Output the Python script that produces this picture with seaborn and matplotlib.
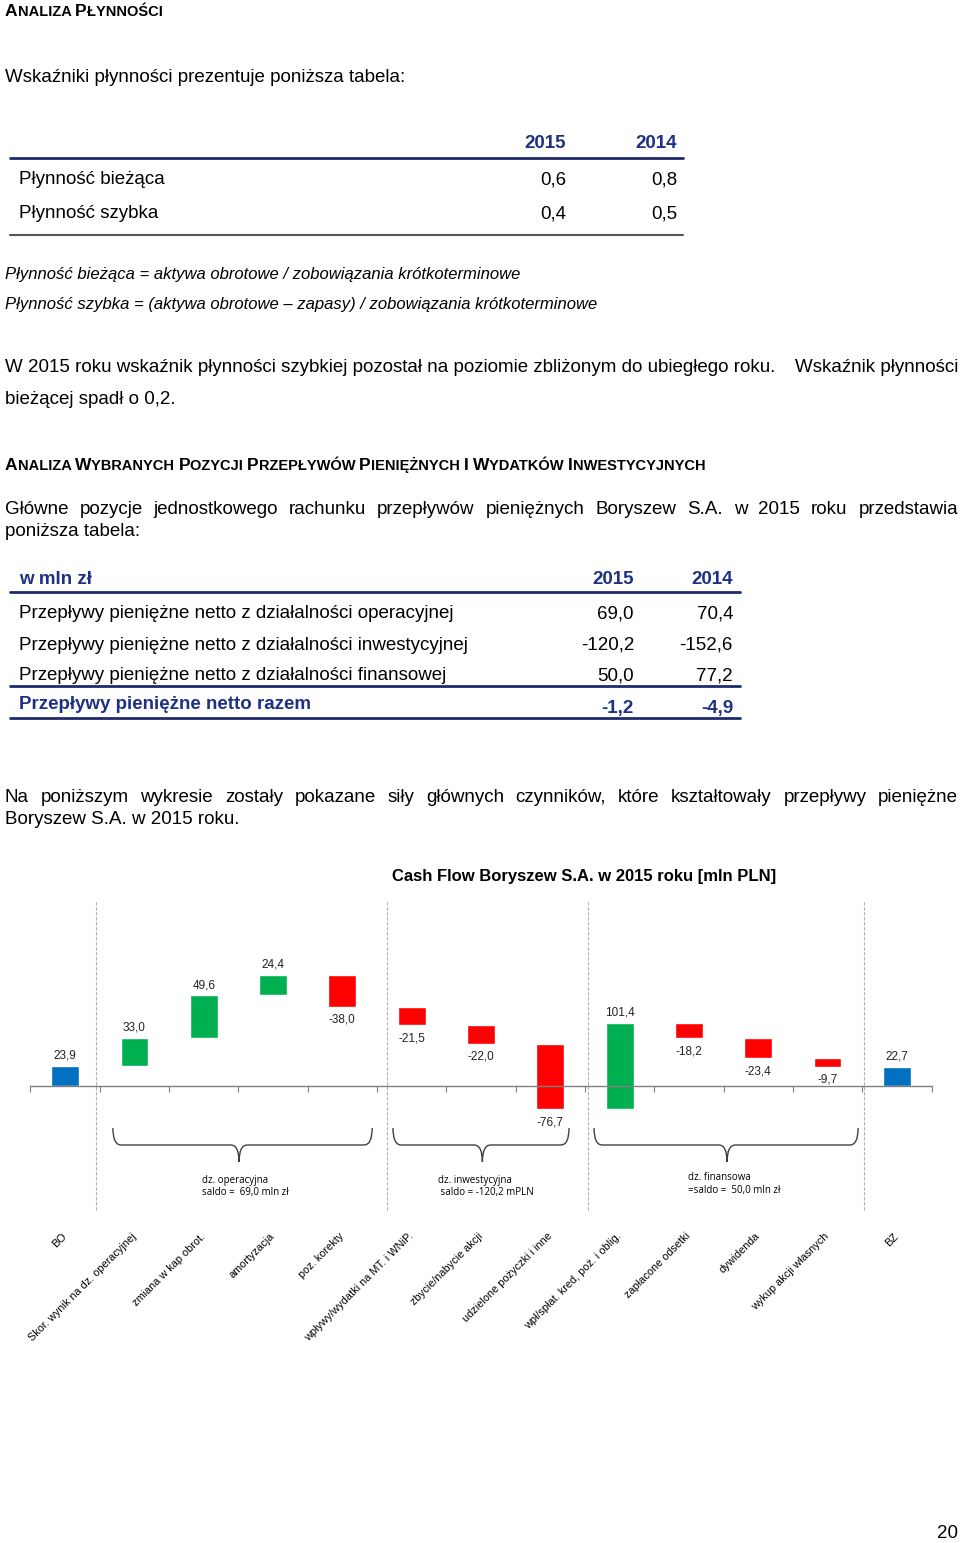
import numpy as np
import pandas as pd
import matplotlib
matplotlib.use('Agg')
import matplotlib.pyplot as plt
from matplotlib.lines import Line2D
from matplotlib.path import Path
from matplotlib.patches import PathPatch
import seaborn as sns

# ---- data ----
liq_rows = ['Płynność bieżąca', 'Płynność szybka']
liq_2015 = [0.6, 0.4]
liq_2014 = [0.8, 0.5]

cf_rows = ['Przepływy pieniężne netto z działalności operacyjnej',
           'Przepływy pieniężne netto z działalności inwestycyjnej',
           'Przepływy pieniężne netto z działalności finansowej']
cf_2015 = [69.0, -120.2, 50.0]
cf_2014 = [70.4, -152.6, 77.2]
cf_total_label = 'Przepływy pieniężne netto razem'
cf_total_2015 = -1.2
cf_total_2014 = -4.9

wf_labels = ['BO', 'Skor. wynik na dz. operacyjnej', 'zmiana w kap obrot.', 'amortyzacja',
             'poz. korekty', 'wpływy/wydatki na MT. i WNiP.', 'zbycie/nabycie akcji',
             'udzielone pożyczki i inne', 'wpł/spłat. kred, poż. i oblig.', 'zapłacone odsetki',
             'dywidenda', 'wykup akcji własnych', 'BZ']
wf_values = [23.9, 33.0, 49.6, 24.4, -38.0, -21.5, -22.0, -76.7, 101.4, -18.2, -23.4, -9.7, 22.7]
wf_kinds = ['total', 'up', 'up', 'up', 'down', 'down', 'down', 'down', 'up', 'down', 'down', 'down', 'total']

group_names = ['dz. operacyjna', 'dz. inwestycyjna', 'dz. finansowa']
group_saldo = ['saldo =  69,0 mln zł', ' saldo = -120,2 mPLN', '=saldo =  50,0 mln zł']

NAVY = '#1F3185'
W, H = 960, 1543
BODY = 13.5

sns.set_theme(style='white')
plt.rcParams['font.family'] = ['Liberation Sans', 'DejaVu Sans']
plt.rcParams['text.color'] = 'black'
plt.rcParams['xtick.color'] = 'black'

fig = plt.figure(figsize=(W / 100, H / 100), dpi=100)
rend = fig.canvas.get_renderer()


def fmt(v):
    return f'{v:.1f}'.replace('.', ',')


def ft(x, y, s, **kw):
    kw.setdefault('va', 'center')
    kw.setdefault('fontsize', BODY)
    if kw['va'] == 'center':
        y += 2   # bbox centre sits a bit high because of descent
    return fig.text(x / W, 1 - y / H, s, **kw)


def hline(x0, x1, y, color, lw):
    fig.add_artist(Line2D([x0 / W, x1 / W], [1 - y / H, 1 - y / H], color=color, lw=lw,
                          transform=fig.transFigure))


def small_caps(x, y, s, big=12.5, small=10.5):
    # first letter of each word larger, the rest smaller (like small caps)
    for word in s.split(' '):
        t = ft(x, y, word[0], fontsize=big, weight='bold', va='baseline')
        x = t.get_window_extent(rend).x1
        t = ft(x, y, word[1:] + ' ', fontsize=small, weight='bold', va='baseline')
        x = t.get_window_extent(rend).x1


def justify(y, line, x0=5, x1=958, **kw):
    words = line.split()
    ts = [ft(x0, y, w, **kw) for w in words]
    widths = [t.get_window_extent(rend).width for t in ts]
    gap = (x1 - x0 - sum(widths)) / (len(words) - 1)
    x = x0
    for t, w in zip(ts, widths):
        t.set_x(x / W)
        x += w + gap


# ---- page text ----
small_caps(5, 16, 'ANALIZA PŁYNNOŚCI')
ft(5, 76, 'Wskaźniki płynności prezentuje poniższa tabela:')

ft(566, 141, '2015', ha='right', weight='bold', color=NAVY)
ft(677, 141, '2014', ha='right', weight='bold', color=NAVY)
hline(10, 683, 158, '#1F2A6B', 2)
for i, (lab, a, b) in enumerate(zip(liq_rows, liq_2015, liq_2014)):
    y = 178 + i * 34
    ft(19, y, lab)
    ft(566, y, fmt(a), ha='right')
    ft(677, y, fmt(b), ha='right')
hline(10, 683, 235, '#555555', 1.5)

ft(5, 273, 'Płynność bieżąca = aktywa obrotowe / zobowiązania krótkoterminowe', fontsize=12, style='italic')
ft(5, 303, 'Płynność szybka = (aktywa obrotowe – zapasy) / zobowiązania krótkoterminowe', fontsize=12, style='italic')

ft(5, 365, 'W 2015 roku wskaźnik płynności szybkiej pozostał na poziomie zbliżonym do ubiegłego roku.')
ft(958, 365, 'Wskaźnik płynności', ha='right')
ft(5, 398, 'bieżącej spadł o 0,2.')

small_caps(5, 470, 'ANALIZA WYBRANYCH POZYCJI PRZEPŁYWÓW PIENIĘŻNYCH I WYDATKÓW INWESTYCYJNYCH')

justify(508, 'Główne pozycje jednostkowego rachunku przepływów pieniężnych Boryszew S.A. w 2015 roku przedstawia')
ft(5, 530, 'poniższa tabela:')

ft(19, 577, 'w mln zł', weight='bold', color=NAVY)
ft(634, 577, '2015', ha='right', weight='bold', color=NAVY)
ft(733, 577, '2014', ha='right', weight='bold', color=NAVY)
hline(10, 740, 592, '#1F2A6B', 2)
for i, (lab, a, b) in enumerate(zip(cf_rows, cf_2015, cf_2014)):
    y = 612 + i * 31
    ft(19, y, lab)
    ft(634, y, fmt(a), ha='right')
    ft(733, y, fmt(b), ha='right')
hline(10, 740, 686, '#1F2A6B', 2)
ft(19, 702, cf_total_label, weight='bold', color=NAVY)
ft(634, 707, fmt(cf_total_2015), ha='right', weight='bold', color=NAVY)
ft(733, 707, fmt(cf_total_2014), ha='right', weight='bold', color=NAVY)
hline(10, 740, 718, '#1F2A6B', 2)

justify(796, 'Na poniższym wykresie zostały pokazane siły głównych czynników, które kształtowały przepływy pieniężne')
ft(5, 818, 'Boryszew S.A. w 2015 roku.')

ft(584, 875, 'Cash Flow Boryszew S.A. w 2015 roku [mln PLN]', ha='center', weight='bold', fontsize=12)
ft(958, 1532, '20', ha='right', fontsize=13.5)

# ---- waterfall chart ----
bottoms = []
running = 0.0
for v, k in zip(wf_values, wf_kinds):
    if k == 'total':
        bottoms.append(0.0)
        running = v
    else:
        bottoms.append(running)
        running += v

df = pd.DataFrame({'cat': wf_labels, 'value': wf_values, 'bottom': bottoms, 'kind': wf_kinds})

zero_px, scale = 1086, 0.85          # pixel row of zero line, pixels per mln
ax_top, ax_bot = 890, 1215
ax = fig.add_axes([30.4 / W, 1 - ax_bot / H, 901.2 / W, (ax_bot - ax_top) / H])

colors = {'total': '#0070C0', 'up': '#00B050', 'down': '#FF0000'}
for kind, col in colors.items():
    sub = df[df['kind'] == kind]
    sns.barplot(data=sub, x='cat', y='value', order=wf_labels, color=col, saturation=1,
                width=0.4, errorbar=None, bottom=sub['bottom'].values, ax=ax, zorder=3)

for i, (v, b, k) in enumerate(zip(wf_values, bottoms, wf_kinds)):
    end = b + v
    if v >= 0:
        ax.annotate(fmt(v), (i, end), xytext=(0, 3), textcoords='offset points',
                    ha='center', va='bottom', fontsize=8.5, color='#222222')
    else:
        ax.annotate(fmt(v), (i, end), xytext=(0, -5), textcoords='offset points',
                    ha='center', va='top', fontsize=8.5, color='#222222')

ax.set_xlim(-0.5, len(wf_labels) - 0.5)
ax.set_ylim(-(ax_bot - zero_px) / scale, (zero_px - ax_top) / scale)
ax.set_xlabel('')
ax.set_ylabel('')
ax.set_yticks([])
for s in ['top', 'right', 'left']:
    ax.spines[s].set_visible(False)
ax.spines['bottom'].set_position(('data', 0))
ax.spines['bottom'].set_color('#808080')
ax.spines['bottom'].set_linewidth(1)
ax.spines['bottom'].set_zorder(4)

ax.set_xticks(range(len(wf_labels)))
ax.set_xticklabels(wf_labels, rotation=45, ha='right', va='center', rotation_mode='anchor', fontsize=7.8)
ax.set_xticks(np.arange(-0.5, len(wf_labels), 1), minor=True)
ax.tick_params(axis='x', which='major', length=0, pad=107, labelcolor='black')
ax.tick_params(axis='x', which='minor', length=4, width=0.8, color='#808080', direction='out', bottom=True)

# section separators
for xs in [0.45, 4.65, 7.55, 11.53]:
    ax.axvline(xs, ymin=0.015, ymax=0.97, color='#B0B0B0', lw=0.8, ls=(0, (3, 1.5)), zorder=1)


def to_y(px):
    return (zero_px - px) / scale


def brace(x0, x1, xm, dx=0.12):
    yt, yl, yp = to_y(1128), to_y(1145), to_y(1162)
    verts = [(x0, yt), (x0, yl), (x0 + dx, yl), (xm - dx, yl), (xm, yl), (xm, yp),
             (xm, yl), (xm + dx, yl), (x1 - dx, yl), (x1, yl), (x1, yt)]
    codes = [Path.MOVETO, Path.CURVE3, Path.CURVE3, Path.LINETO, Path.CURVE3, Path.CURVE3,
             Path.CURVE3, Path.CURVE3, Path.LINETO, Path.CURVE3, Path.CURVE3]
    ax.add_patch(PathPatch(Path(verts, codes), fill=False, ec='#404040', lw=1, clip_on=False))


brace_spans = [(0.69, 4.43, 2.51), (4.73, 7.27, 6.02), (7.63, 11.44, 9.55)]
text_x = [1.98, 5.38, 8.99]
text_y = [1180, 1180, 1177]
for (x0, x1, xm), tx, ty, name, saldo in zip(brace_spans, text_x, text_y, group_names, group_saldo):
    brace(x0, x1, xm)
    ax.text(tx, to_y(ty), name, fontsize=7, va='center', ha='left', family='Open Sans')
    ax.text(tx, to_y(ty + 13), saldo, fontsize=7, va='center', ha='left', family='Open Sans')

fig.savefig('out.png', dpi=100)
